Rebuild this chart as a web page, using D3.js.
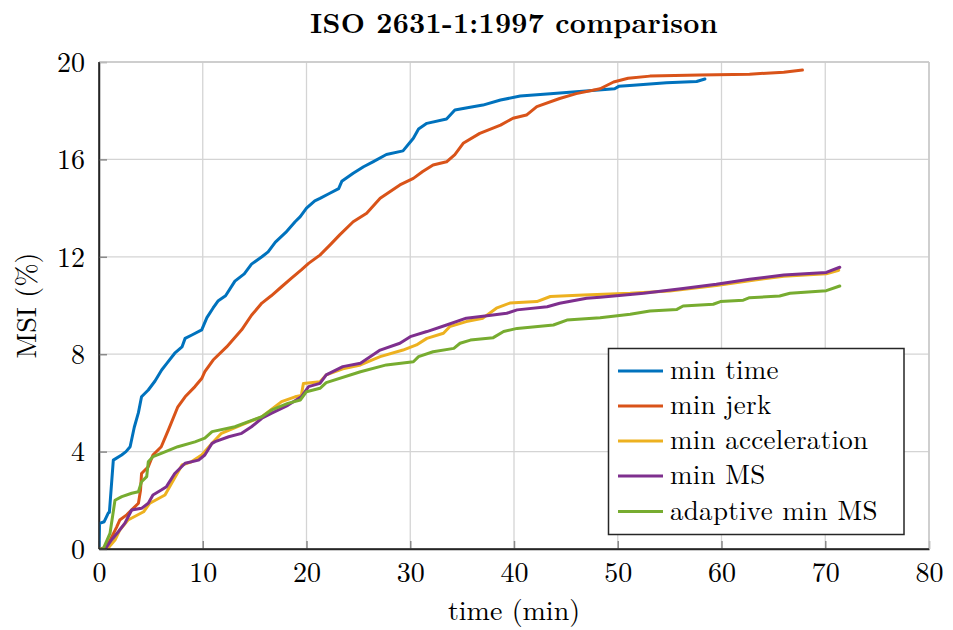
<!DOCTYPE html>
<html><head><meta charset="utf-8">
<script src="https://cdn.jsdelivr.net/npm/d3@7"></script>
<style>
body{margin:0;background:#fff;}
</style></head>
<body><svg id="c" width="953" height="630"></svg>
<script>
const xTicks=[0,10,20,30,40,50,60,70,80];
const yTicks=[0,4,8,12,16,20];
const seriesNames=["min time","min jerk","min acceleration","min MS","adaptive min MS"];
const seriesColors=["#0072BD","#D95319","#EDB120","#7E2F8E","#77AC30"];

const minTime=[[0,0],[0.05,1.05],[0.5,1.12],[0.9,1.48],[1.0,1.5],[1.38,3.65],[2.18,3.86],[2.6,4.0],[3.0,4.2],[3.4,5.0],[3.8,5.6],[4.1,6.25],[4.75,6.53],[5.4,6.9],[6.04,7.35],[6.5,7.6],[7.3,8.04],[8.0,8.3],[8.3,8.65],[9.0,8.8],[9.9,9.0],[10.4,9.5],[11.0,9.9],[11.5,10.2],[12.2,10.4],[13.1,11.0],[14.0,11.3],[14.7,11.7],[15.7,12.0],[16.3,12.2],[17.0,12.6],[18.0,13.0],[18.9,13.44],[19.4,13.65],[20.0,14.0],[20.8,14.3],[21.3,14.4],[22.2,14.6],[23.1,14.8],[23.4,15.1],[24.5,15.43],[25.5,15.7],[26.4,15.9],[27.7,16.2],[29.3,16.35],[30.3,16.87],[30.8,17.25],[31.6,17.48],[33.5,17.66],[34.3,18.03],[35.5,18.12],[37.0,18.23],[38.7,18.44],[40.6,18.6],[43.5,18.7],[46.6,18.8],[49.7,18.9],[50.1,19.0],[51.5,19.05],[54.7,19.15],[57.6,19.2],[58.4,19.3]];
const minJerk=[[0,0],[0.6,0.05],[1.0,0.3],[1.7,0.9],[2.0,1.19],[2.67,1.4],[3.3,1.67],[3.8,1.88],[4.0,2.4],[4.1,3.1],[4.75,3.38],[5.2,3.86],[6.0,4.2],[6.7,4.9],[7.6,5.84],[8.3,6.25],[9.25,6.67],[9.9,7.0],[10.2,7.28],[11.0,7.76],[12.3,8.3],[13.75,9.0],[14.7,9.6],[15.7,10.1],[16.6,10.4],[17.6,10.77],[18.5,11.1],[19.5,11.46],[20.2,11.73],[21.3,12.07],[22.3,12.5],[23.2,12.9],[24.5,13.44],[25.8,13.79],[27.1,14.4],[29.0,14.95],[30.3,15.22],[31.2,15.5],[32.2,15.77],[33.5,15.9],[34.3,16.2],[35.1,16.66],[36.7,17.07],[38.7,17.41],[39.9,17.69],[41.2,17.82],[42.2,18.17],[44.4,18.5],[46.0,18.7],[48.3,18.9],[49.6,19.18],[51.0,19.33],[53.1,19.42],[57.9,19.47],[62.7,19.5],[66.0,19.58],[67.8,19.67]];
const minAccel=[[0,0],[0.8,0],[1.54,0.37],[2.0,0.78],[2.8,1.19],[4.3,1.53],[4.9,1.88],[6.36,2.22],[7.0,2.7],[8.0,3.45],[8.9,3.58],[9.9,3.86],[10.9,4.34],[11.8,4.75],[13.75,5.1],[15.7,5.43],[17.6,6.05],[18.9,6.25],[19.5,6.3],[19.7,6.8],[21.3,6.87],[21.9,7.15],[23.5,7.4],[25.2,7.56],[27.1,7.9],[29.3,8.17],[30.6,8.38],[31.6,8.65],[33.2,8.86],[33.8,9.13],[35.4,9.34],[37.0,9.48],[38.3,9.89],[39.6,10.1],[42.2,10.16],[43.5,10.37],[46.7,10.43],[51.2,10.5],[55.0,10.6],[59.5,10.82],[62.7,11.02],[66.0,11.2],[70.1,11.3],[71.3,11.45]];
const minMS=[[0,0],[0.6,0],[1.2,0.37],[1.86,0.71],[2.5,1.06],[3.15,1.6],[4.1,1.67],[4.75,1.88],[5.2,2.22],[6.0,2.42],[6.5,2.56],[7.3,3.1],[8.3,3.52],[9.6,3.65],[10.2,3.86],[10.9,4.34],[11.2,4.41],[12.5,4.61],[13.75,4.75],[14.7,5.02],[15.7,5.37],[16.6,5.57],[18.2,5.9],[19.5,6.25],[20.2,6.67],[21.3,6.8],[21.9,7.15],[23.5,7.49],[25.2,7.63],[27.1,8.17],[29.0,8.45],[30.0,8.72],[31.6,8.93],[33.5,9.2],[35.4,9.48],[37.4,9.58],[39.3,9.68],[40.3,9.82],[43.2,9.95],[44.4,10.09],[47.0,10.3],[48.3,10.34],[52.5,10.5],[56.3,10.7],[59.5,10.87],[62.7,11.08],[66.0,11.25],[70.1,11.36],[71.4,11.57]];
const adaptiveMinMS=[[0,0],[0.4,0],[1.06,0.64],[1.54,2.0],[2.2,2.15],[3.15,2.29],[3.8,2.35],[4.1,2.76],[4.6,2.97],[4.75,3.58],[5.2,3.79],[6.0,3.93],[7.6,4.2],[9.25,4.4],[10.2,4.55],[10.9,4.82],[13.1,5.02],[14.4,5.23],[15.7,5.43],[16.6,5.7],[18.2,5.98],[19.4,6.12],[20.0,6.46],[21.3,6.6],[21.9,6.83],[25.2,7.28],[27.7,7.56],[30.3,7.69],[30.8,7.9],[32.2,8.1],[34.2,8.24],[34.8,8.45],[35.8,8.58],[38.0,8.68],[39.0,8.93],[40.3,9.06],[43.8,9.2],[45.1,9.4],[48.3,9.5],[51.2,9.64],[53.1,9.77],[55.7,9.84],[56.3,9.98],[59.2,10.05],[59.9,10.16],[62.1,10.22],[62.7,10.32],[65.6,10.39],[66.6,10.5],[70.1,10.61],[71.4,10.8]];

const allSeries=[minTime,minJerk,minAccel,minMS,adaptiveMinMS];
const FONT='"Latin Modern Roman"';

const svg=d3.select("#c");
const L=99,R=929,T=62,B=549;
const x=d3.scaleLinear().domain([0,80]).range([L,R]);
const y=d3.scaleLinear().domain([0,20]).range([B,T]);

// grid
const g=svg.append("g");
g.selectAll(".gx").data(xTicks).enter().append("line")
  .attr("x1",d=>x(d)).attr("x2",d=>x(d)).attr("y1",T).attr("y2",B)
  .attr("stroke","#d4d4d4").attr("stroke-width",1.3);
g.selectAll(".gy").data(yTicks).enter().append("line")
  .attr("x1",L).attr("x2",R).attr("y1",d=>y(d)).attr("y2",d=>y(d))
  .attr("stroke","#d4d4d4").attr("stroke-width",1.3);

// axes
const xAxis=d3.axisBottom(x).tickValues(xTicks).tickSizeInner(-8).tickSizeOuter(0).tickPadding(13);
const yAxis=d3.axisLeft(y).tickValues(yTicks).tickSizeInner(-8).tickSizeOuter(0).tickPadding(14);
const gx=svg.append("g").attr("transform",`translate(0,${B})`).call(xAxis).attr("font-family",null);
const gy=svg.append("g").attr("transform",`translate(${L},0)`).call(yAxis).attr("font-family",null);
[gx,gy].forEach(a=>{
  a.select(".domain").attr("stroke","#262626").attr("stroke-width",1.5);
  a.selectAll(".tick line").attr("stroke","#8a8a8a").attr("stroke-width",1.5);
  a.selectAll(".tick text").style("font-family",FONT).style("font-size","28px").attr("fill","#000");
});
gx.selectAll(".tick text").attr("dy","0.7em");
gy.selectAll(".tick text").attr("dy","0.33em");
// top/right box edges
svg.append("line").attr("x1",L).attr("x2",R).attr("y1",T).attr("y2",T).attr("stroke","#c8c8c8").attr("stroke-width",1.5);
svg.append("line").attr("x1",R).attr("x2",R).attr("y1",T).attr("y2",B).attr("stroke","#c8c8c8").attr("stroke-width",1.5);

// lines
const line=d3.line().x(d=>x(d[0])).y(d=>y(d[1]));
svg.append("defs").append("clipPath").attr("id","pc").append("rect")
  .attr("x",L).attr("y",T-5).attr("width",R-L).attr("height",B-T+5);
svg.append("g").attr("clip-path","url(#pc)").selectAll("path").data(allSeries).enter().append("path")
  .attr("d",line).attr("fill","none").attr("stroke",(d,i)=>seriesColors[i])
  .attr("stroke-width",3).attr("stroke-linejoin","round").attr("stroke-linecap","round");

// redraw axis lines on top
svg.append("line").attr("x1",L).attr("x2",R).attr("y1",B).attr("y2",B).attr("stroke","#262626").attr("stroke-width",1.5);
svg.append("line").attr("x1",L).attr("x2",L).attr("y1",T).attr("y2",B).attr("stroke","#262626").attr("stroke-width",1.5);

// title and labels
svg.append("text").attr("x",(L+R)/2).attr("y",33).attr("text-anchor","middle").style("font-family",FONT)
  .style("font-size","28px").style("font-weight","bold").style("letter-spacing","0.3px").text("ISO 2631-1:1997 comparison");
svg.append("text").attr("x",(L+R)/2).attr("y",620).attr("text-anchor","middle").style("font-family",FONT)
  .style("font-size","28px").text("time (min)");
svg.append("text").attr("transform",`translate(36,${(T+B)/2}) rotate(-90)`).attr("text-anchor","middle").style("font-family",FONT)
  .style("font-size","28px").text("MSI (%)");

// legend
const lg=svg.append("g");
lg.append("rect").attr("x",608.5).attr("y",348.5).attr("width",295.5).attr("height",186)
  .attr("fill","#fff").attr("stroke","#262626").attr("stroke-width",1.5);
const rowY=[371,406,441,476,511.5];
seriesNames.forEach((n,i)=>{
  lg.append("line").attr("x1",618).attr("x2",663).attr("y1",rowY[i]).attr("y2",rowY[i])
    .attr("stroke",seriesColors[i]).attr("stroke-width",3);
  lg.append("text").attr("x",670).attr("y",rowY[i]).attr("dy","0.3em").style("font-family",FONT)
    .style("font-size","27px").style("letter-spacing","0.3px").text(n);
});
</script></body></html>
